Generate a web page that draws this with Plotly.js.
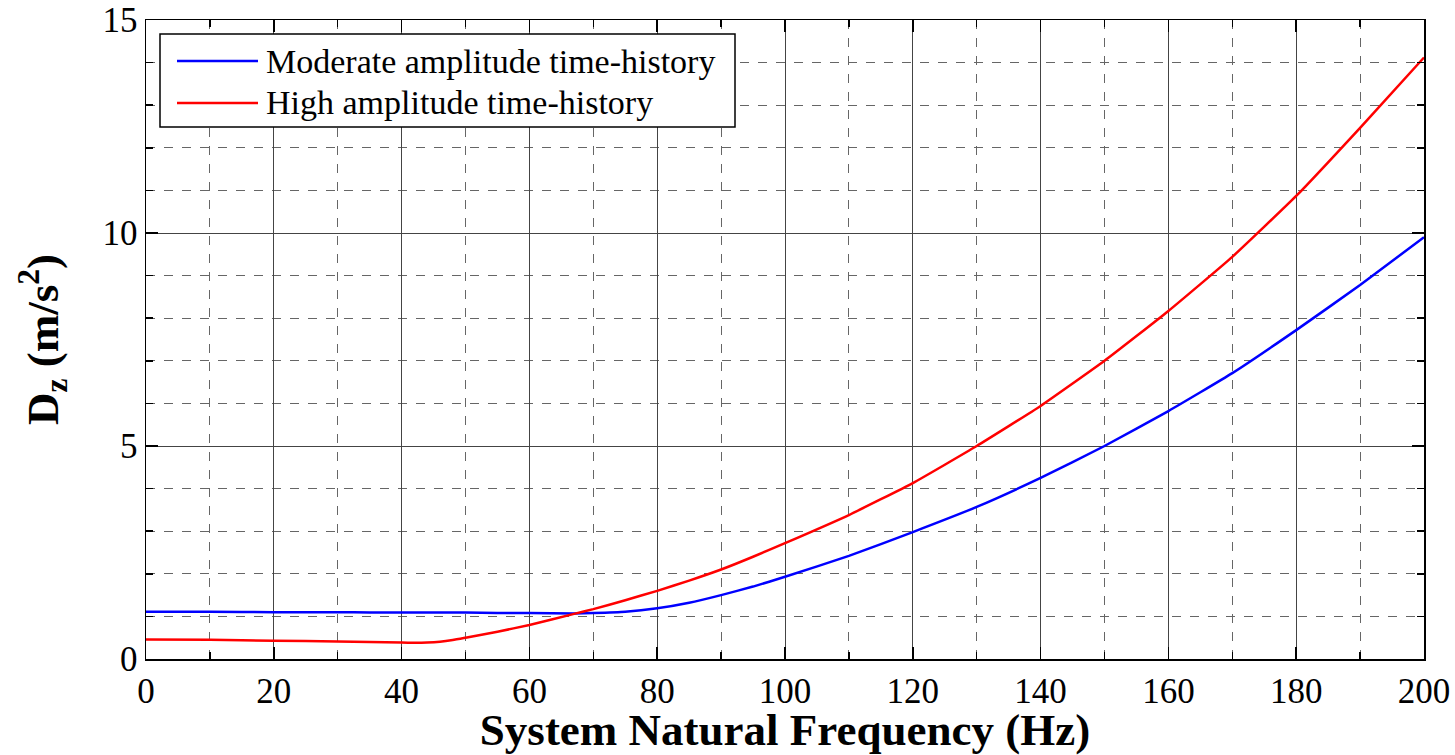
<!DOCTYPE html>
<html>
<head>
<meta charset="utf-8">
<script src="https://cdn.plot.ly/plotly-3.0.1.min.js"></script>
<style>html,body{margin:0;padding:0;background:#fff;}#chart{width:1455px;height:755px;}</style>
</head>
<body>
<div id="chart"></div>
<script>
const freq = [0, 10, 20, 30, 35, 40, 42, 44, 46, 48, 50, 55, 60, 67, 70, 75, 80, 85, 90, 95, 100, 110, 120, 130, 140, 150, 160, 170, 180, 190, 200];
const moderate = [1.11, 1.11, 1.10, 1.10, 1.09, 1.09, 1.09, 1.09, 1.09, 1.09, 1.09, 1.08, 1.08, 1.07, 1.08, 1.11, 1.19, 1.32, 1.50, 1.70, 1.93, 2.42, 2.98, 3.57, 4.25, 5.00, 5.82, 6.71, 7.72, 8.78, 9.90];
const high = [0.46, 0.45, 0.43, 0.41, 0.40, 0.385, 0.38, 0.385, 0.405, 0.445, 0.50, 0.64, 0.80, 1.06, 1.17, 1.38, 1.60, 1.84, 2.10, 2.40, 2.72, 3.38, 4.13, 5.00, 5.94, 7.00, 8.17, 9.44, 10.87, 12.47, 14.12];
const seriesNames = ["Moderate amplitude time-history", "High amplitude time-history"];
const seriesColors = ["#0000ff", "#ff0000"];
const xTicks = [0, 20, 40, 60, 80, 100, 120, 140, 160, 180, 200];
const yTicks = [0, 5, 10, 15];

const font = "Liberation Serif, Times New Roman, serif";

const traces = [
  {x: freq, y: moderate, name: seriesNames[0], mode: 'lines', line: {color: seriesColors[0], width: 2.5, shape: 'spline', smoothing: 0.4}},
  {x: freq, y: high, name: seriesNames[1], mode: 'lines', line: {color: seriesColors[1], width: 2.5, shape: 'spline', smoothing: 0.4}}
];

const axisCommon = {
  showline: true, linecolor: '#000', linewidth: 1.5, mirror: 'allticks',
  ticks: 'inside', ticklen: 12, tickwidth: 1.5, tickcolor: '#000',
  showgrid: true, gridcolor: '#444', gridwidth: 1,
  zeroline: false,
  tickfont: {family: font, size: 35, color: '#000'}
};

const layout = {
  width: 1455, height: 755,
  margin: {l: 146, r: 31, t: 20, b: 96},
  paper_bgcolor: '#fff', plot_bgcolor: '#fff',
  showlegend: false,
  xaxis: Object.assign({}, axisCommon, {
    range: [0, 200], tickvals: xTicks, ticktext: xTicks.map(String),
    minor: {dtick: 10, showgrid: true, gridcolor: '#666', griddash: 'dash', gridwidth: 1, ticks: 'inside', ticklen: 7, tickcolor: '#000'},
    title: {text: 'System Natural Frequency (Hz)', font: {family: font, size: 45, color: '#000', weight: 'bold'}, standoff: 6}
  }),
  yaxis: Object.assign({}, axisCommon, {
    range: [0, 15], tickvals: yTicks, ticktext: yTicks.map(String),
    minor: {dtick: 1, showgrid: true, gridcolor: '#666', griddash: 'dash', gridwidth: 1, ticks: 'inside', ticklen: 7, tickcolor: '#000'},
    title: {text: 'D<sub>z</sub> (m/s<sup>2</sup>)', font: {family: font, size: 45, color: '#000', weight: 'bold'}, standoff: 30}
  }),
  shapes: [
    {type: 'rect', xref: 'paper', yref: 'paper', x0: 14/1278, x1: 589/1278, y0: 1 - 107/639, y1: 1 - 14/639,
     line: {color: '#000', width: 1.5}, fillcolor: '#fff', layer: 'above'},
    {type: 'line', xref: 'paper', yref: 'paper', x0: 31/1278, x1: 112/1278, y0: 1 - 41/639, y1: 1 - 41/639,
     line: {color: seriesColors[0], width: 2.5}, layer: 'above'},
    {type: 'line', xref: 'paper', yref: 'paper', x0: 31/1278, x1: 112/1278, y0: 1 - 83/639, y1: 1 - 83/639,
     line: {color: seriesColors[1], width: 2.5}, layer: 'above'}
  ],
  annotations: [
    {xref: 'paper', yref: 'paper', x: 118/1278, y: 1 - 41/639, xanchor: 'left', yanchor: 'middle', showarrow: false,
     text: seriesNames[0], font: {family: font, size: 34, color: '#000'}},
    {xref: 'paper', yref: 'paper', x: 118/1278, y: 1 - 83/639, xanchor: 'left', yanchor: 'middle', showarrow: false,
     text: seriesNames[1], font: {family: font, size: 34, color: '#000'}}
  ]
};

Plotly.newPlot('chart', traces, layout, {displayModeBar: false, staticPlot: true});
</script>
</body>
</html>
